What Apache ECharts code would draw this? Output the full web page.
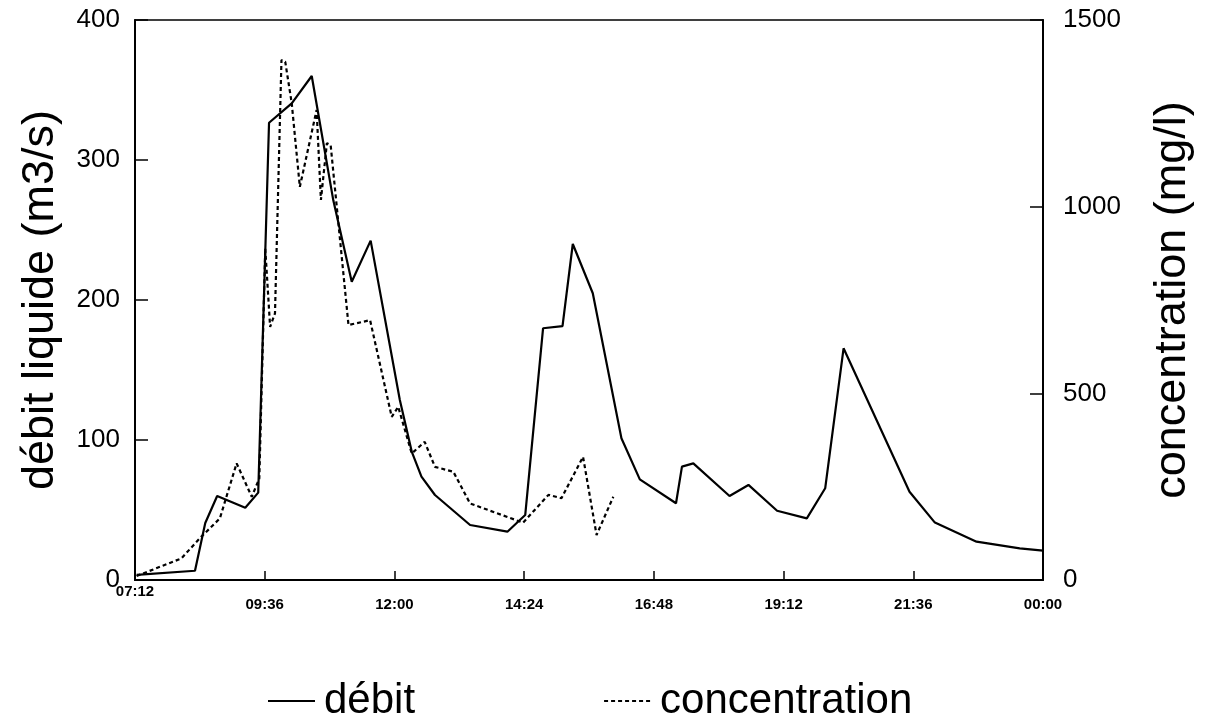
<!DOCTYPE html>
<html>
<head>
<meta charset="utf-8">
<script src="https://cdn.jsdelivr.net/npm/echarts@6/dist/echarts.min.js"></script>
<style>
  html, body { margin: 0; padding: 0; background: #fff; }
  #chart { width: 1207px; height: 719px; }
</style>
</head>
<body>
<div id="chart"></div>
<script>
// temps en heures décimales
var debitTime = [7.23, 8.31, 8.50, 8.72, 9.24, 9.48, 9.68, 10.10, 10.47, 10.87, 11.21, 11.56,
    12.10, 12.32, 12.50, 12.75, 13.40, 14.09, 14.42, 14.75, 15.11, 15.30, 15.67, 16.20,
    16.54, 17.21, 17.32, 17.53, 18.20, 18.55, 19.08, 19.63, 19.97, 20.31, 21.53, 22.00,
    22.77, 23.57, 24.0];
var debitValue = [3.6, 6.6, 40.7, 60, 51.6, 62.4, 326.6, 340.5, 360, 271, 213, 242.4,
    128.6, 91.7, 73.8, 60.7, 39.3, 34.5, 46.4, 179.8, 181.4, 240, 204.8, 101.2,
    71.9, 54.8, 81, 83.3, 60, 67.9, 49.5, 44, 65.5, 165.5, 63, 41,
    27.4, 22.6, 21];

var concTime = [7.23, 8.06, 8.40, 8.77, 9.08, 9.36, 9.50, 9.61, 9.70, 9.79, 9.91, 9.98,
    10.10, 10.25, 10.56, 10.64, 10.75, 10.82, 11.15, 11.55, 11.95, 12.07, 12.32, 12.56,
    12.75, 13.09, 13.40, 14.38, 14.85, 15.09, 15.49, 15.74, 16.05];
var concValue = [10.7, 58, 112, 165, 312.5, 223, 272, 888, 678, 714, 1393, 1388,
    1277, 1053, 1259, 1018, 1170, 1165, 683, 696, 437, 464, 339, 370,
    303, 290, 205, 153.5, 228, 219, 330, 120.5, 223];

// graduations de l'axe des temps
var timeTicks = [7.2, 9.6, 12.0, 14.4, 16.8, 19.2, 21.6, 24.0];

function pairs(t, v) {
    var out = [];
    for (var i = 0; i < t.length; i++) out.push([t[i], v[i]]);
    return out;
}

function hhmm(h) {
    var m = Math.round(h * 60) % (24 * 60);
    var hh = Math.floor(m / 60), mm = m % 60;
    return (hh < 10 ? '0' : '') + hh + ':' + (mm < 10 ? '0' : '') + mm;
}

var FONT = '"Liberation Sans", Arial, Helvetica, sans-serif';

var chart = echarts.init(document.getElementById('chart'));
chart.setOption({
    animation: false,
    backgroundColor: '#fff',
    textStyle: { fontFamily: FONT, color: '#000' },
    grid: {
        left: 135, right: 164, top: 20, bottom: 139,
        show: true, borderColor: '#000', borderWidth: 1.5, backgroundColor: 'transparent'
    },
    legend: {
        left: 262,
        top: 675,
        itemWidth: 47,
        itemHeight: 14,
        itemGap: 188,
        itemStyle: { opacity: 0 },
        textStyle: { fontSize: 42, color: '#000', fontFamily: FONT, padding: [0, 0, 0, 4] },
        data: ['débit', 'concentration']
    },
    xAxis: {
        type: 'value',
        min: 7.2,
        max: 24,
        interval: 2.4,
        axisLine: { lineStyle: { color: '#000', width: 2 } },
        axisTick: { inside: true, length: 9, lineStyle: { color: '#000', width: 1.5 } },
        splitLine: { show: false },
        axisLabel: {
            margin: 4,
            color: '#000',
            fontSize: 15,
            fontWeight: 'bold',
            fontFamily: FONT,
            formatter: function (v) {
                var s = hhmm(v);
                return Math.abs(v - timeTicks[0]) < 1e-6 ? '{f|' + s + '}' : '{n|' + s + '}';
            },
            rich: {
                f: { fontSize: 15, fontWeight: 'bold', fontFamily: FONT, color: '#000' },
                n: { fontSize: 15, fontWeight: 'bold', fontFamily: FONT, color: '#000', padding: [13, 0, 0, 0] }
            }
        }
    },
    yAxis: [{
        type: 'value',
        min: 0,
        max: 400,
        interval: 100,
        name: 'débit liquide (m3/s)',
        nameLocation: 'middle',
        nameGap: 72,
        nameTextStyle: { fontSize: 45, color: '#000', fontFamily: FONT },
        axisLine: { show: true, lineStyle: { color: '#000', width: 2 } },
        axisTick: { show: true, inside: true, length: 13, lineStyle: { color: '#000', width: 1.5 } },
        splitLine: { show: false },
        axisLabel: {
            margin: 15, fontSize: 26, color: '#000', fontFamily: FONT,
            formatter: function (v) { return String(v); }
        }
    }, {
        type: 'value',
        position: 'right',
        min: 0,
        max: 1500,
        interval: 500,
        name: 'concentration (mg/l)',
        nameLocation: 'middle',
        nameGap: 107,
        nameTextStyle: { fontSize: 45, color: '#000', fontFamily: FONT },
        axisLine: { show: true, lineStyle: { color: '#000', width: 2 } },
        axisTick: { show: true, inside: true, length: 13, lineStyle: { color: '#000', width: 1.5 } },
        splitLine: { show: false },
        axisLabel: {
            margin: 20, fontSize: 26, color: '#000', fontFamily: FONT,
            formatter: function (v) { return String(v); }
        }
    }],
    series: [{
        name: 'débit',
        type: 'line',
        yAxisIndex: 0,
        symbol: 'none',
        lineStyle: { color: '#000', width: 2.2, type: 'solid' },
        itemStyle: { color: '#000' },
        data: pairs(debitTime, debitValue)
    }, {
        name: 'concentration',
        type: 'line',
        yAxisIndex: 1,
        symbol: 'none',
        lineStyle: { color: '#000', width: 2.2, type: [4, 3] },
        itemStyle: { color: '#000' },
        data: pairs(concTime, concValue)
    }]
});
</script>
</body>
</html>
